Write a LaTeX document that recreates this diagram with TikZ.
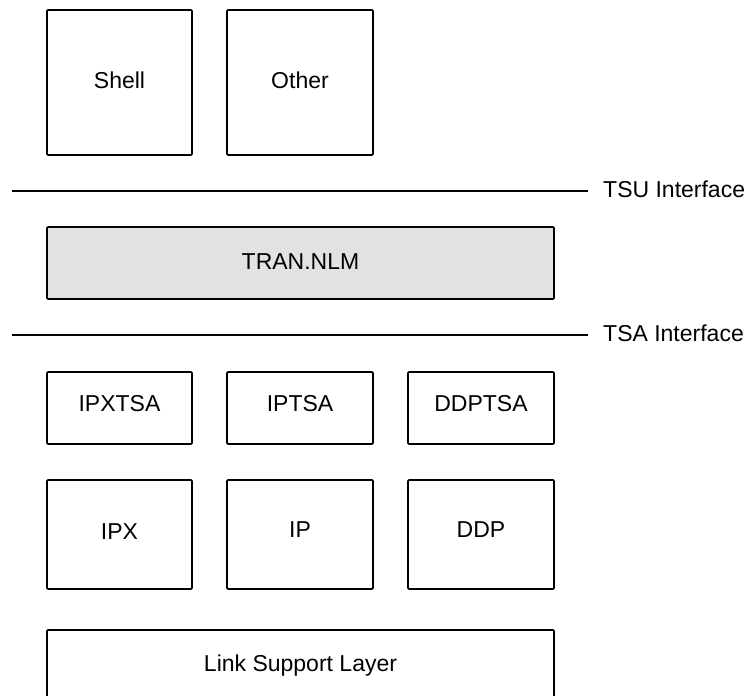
\documentclass[tikz,border=0pt]{standalone}
\usepackage{fontspec}
\setmainfont{Liberation Sans}
\begin{document}
\begin{tikzpicture}[x=1pt,y=-1pt,
  box/.style={draw=black,line width=1.6pt,rounded corners=1pt},
  lbl/.style={font=\fontsize{23}{27}\selectfont,inner sep=0pt},
  iface/.style={line width=1.6pt}]
\useasboundingbox (0,0) rectangle (750,696);
\clip (0,0) rectangle (750,696);
% top boxes
\draw[box] (47,10) rectangle (192,155);
\node[lbl] (shell) at (119.5,80) {Shell};
\draw[box] (227,10) rectangle (373,155);
\node[lbl] (other) at (300,80) {Other};
% TSU interface
\coordinate (tsuL) at (12,191);
\coordinate (tsuR) at (588,191);
\draw[iface] (tsuL) -- (tsuR);
\node[lbl,anchor=west] (tsu) at (603,189) {TSU Interface};
% TRAN.NLM
\draw[box,fill={rgb,255:red,226;green,226;blue,226}] (47,227) rectangle (554,299);
\node[lbl] (tran) at (300.5,262) {TRAN.NLM};
% TSA interface
\coordinate (tsaL) at (12,335);
\coordinate (tsaR) at (588,335);
\draw[iface] (tsaL) -- (tsaR);
\node[lbl,anchor=west] (tsa) at (603,333) {TSA Interface};
% TSA boxes
\draw[box] (47,372) rectangle (192,444);
\node[lbl] (ipxtsa) at (119.5,404) {IPXTSA};
\draw[box] (227,372) rectangle (373,444);
\node[lbl] (iptsa) at (300,404) {IPTSA};
\draw[box] (408,372) rectangle (554,444);
\node[lbl] (ddptsa) at (481,404) {DDPTSA};
% protocol boxes
\draw[box] (47,480) rectangle (192,589);
\node[lbl] (ipx) at (119.5,532) {IPX};
\draw[box] (227,480) rectangle (373,589);
\node[lbl] (ip) at (300,530) {IP};
\draw[box] (408,480) rectangle (554,589);
\node[lbl] (ddp) at (481,530) {DDP};
% link support layer
\draw[box] (47,630) rectangle (554,710);
\node[lbl] (lsl) at (300.5,666) {Link Support Layer};
\end{tikzpicture}
\end{document}
